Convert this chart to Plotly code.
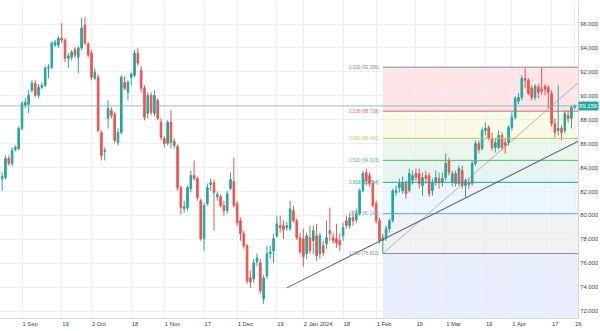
import pandas as pd
import plotly.graph_objects as go

# ---- daily sessions (ICE holidays removed) ----
holidays = ["2023-12-25", "2024-01-01", "2024-03-29"]
dates = [d for d in pd.bdate_range("2023-08-23", "2024-04-26")
         if d.strftime("%Y-%m-%d") not in holidays]

open_ = [83.92, 83.08, 83.16, 84.76, 84.34, 85.51, 85.60, 87.27, 89.21, 89.29,
         90.46, 91.05, 90.04, 90.71, 90.88, 92.31, 92.39, 94.24, 94.24, 94.82,
         94.66, 93.15, 93.23, 93.90, 93.23, 93.99, 95.92, 94.32, 93.57, 91.47,
         91.55, 86.94, 85.35, 88.11, 88.79, 88.45, 86.10, 86.94, 91.13, 90.29,
         91.55, 91.72, 93.57, 92.14, 90.63, 88.53, 90.04, 88.53, 89.62, 87.78,
         86.44, 86.02, 87.78, 85.85, 85.76, 82.33, 80.56, 80.65, 82.24, 83.33,
         83.08, 81.23, 78.05, 80.98, 82.58, 82.74, 81.57, 81.57, 80.82, 80.40,
         82.24, 82.83, 80.98, 79.56, 78.47, 77.46, 74.77, 74.69, 76.12, 76.03,
         73.01, 74.94, 76.79, 77.04, 78.30, 79.14, 79.14, 78.97, 78.89, 80.40,
         79.56, 78.13, 78.05, 76.79, 78.13, 77.88, 78.30, 76.79, 77.46, 77.63,
         78.72, 78.13, 78.05, 77.88, 78.30, 79.56, 79.14, 79.81, 79.64, 80.14,
         82.07, 83.58, 83.33, 82.66, 80.98, 79.56, 77.88, 78.13, 78.89, 79.56,
         81.91, 82.33, 82.07, 82.66, 82.07, 82.91, 83.50, 83.50, 82.49, 83.33,
         83.33, 82.07, 82.74, 83.08, 82.74, 83.16, 84.59, 82.74, 83.50, 82.66,
         83.75, 82.49, 82.74, 82.66, 84.34, 86.02, 85.60, 87.11, 87.36, 86.44,
         85.68, 85.68, 86.69, 86.10, 86.10, 87.36, 88.20, 89.54, 89.87, 91.47,
         91.30, 90.63, 89.87, 90.71, 90.55, 90.80, 90.71, 90.21, 87.69, 87.11,
         87.27, 87.11, 88.37, 88.11, 89.04]
high = [84.17, 83.58, 85.01, 85.01, 85.68, 85.85, 87.44, 89.54, 89.79, 90.46,
        91.30, 91.30, 90.97, 91.13, 92.48, 92.64, 94.57, 94.66, 94.99, 96.08,
        94.82, 93.57, 93.82, 94.07, 94.15, 96.50, 96.59, 94.49, 93.82, 92.31,
        91.80, 87.11, 85.68, 89.62, 89.04, 88.62, 87.27, 91.72, 91.64, 91.30,
        91.97, 93.82, 93.99, 92.48, 90.88, 90.29, 90.29, 90.46, 89.79, 88.11,
        86.60, 87.95, 88.79, 86.44, 85.93, 82.49, 81.23, 82.49, 83.75, 84.59,
        83.25, 81.40, 81.07, 82.66, 83.08, 83.00, 81.99, 81.74, 81.23, 82.07,
        83.58, 84.84, 81.23, 79.81, 78.72, 77.63, 75.36, 76.37, 76.79, 76.37,
        75.02, 77.46, 77.46, 78.47, 79.98, 79.98, 79.56, 79.47, 81.23, 80.82,
        79.72, 78.55, 78.89, 78.55, 79.14, 79.14, 79.30, 78.55, 77.88, 79.56,
        80.65, 78.55, 79.30, 78.47, 79.39, 79.98, 80.14, 80.40, 80.56, 82.24,
        83.75, 83.92, 83.58, 82.91, 81.23, 79.81, 78.47, 79.14, 79.72, 82.24,
        82.49, 83.08, 83.25, 82.91, 83.92, 83.75, 83.92, 83.92, 83.58, 83.75,
        83.58, 83.08, 83.75, 83.58, 83.58, 85.18, 84.84, 83.75, 83.75, 84.17,
        84.17, 83.08, 83.08, 84.59, 86.27, 86.27, 87.36, 87.78, 87.53, 86.94,
        86.44, 87.11, 86.94, 86.44, 87.53, 88.62, 89.96, 90.21, 91.72, 92.31,
        91.47, 90.88, 90.97, 90.97, 92.396, 90.97, 90.88, 90.46, 88.11, 90.88,
        87.53, 88.79, 88.79, 89.21, 89.29]
low = [83.08, 82.07, 83.00, 84.17, 84.09, 85.35, 85.43, 87.11, 88.95, 88.53,
       90.29, 89.87, 89.79, 90.55, 90.71, 91.47, 92.22, 94.07, 93.99, 94.41,
       92.81, 92.31, 92.98, 93.15, 91.89, 93.82, 94.24, 93.23, 91.30, 91.30,
       86.94, 84.59, 84.59, 87.27, 88.11, 86.02, 85.85, 86.77, 90.46, 89.62,
       90.88, 91.55, 92.48, 90.29, 87.95, 88.11, 88.37, 88.28, 87.95, 86.27,
       85.68, 85.85, 85.60, 85.60, 82.07, 80.06, 80.23, 80.40, 81.91, 82.91,
       81.23, 77.88, 77.04, 80.82, 82.07, 78.72, 81.23, 80.65, 79.98, 80.14,
       82.07, 80.65, 79.14, 77.88, 77.21, 74.27, 73.94, 74.36, 75.78, 73.43,
       72.59, 74.69, 76.37, 76.03, 78.13, 78.55, 78.05, 78.72, 78.72, 79.39,
       77.96, 76.79, 75.70, 76.37, 76.79, 76.79, 76.20, 76.37, 76.62, 77.21,
       77.88, 77.63, 77.29, 77.04, 77.88, 78.89, 78.89, 79.14, 79.39, 79.98,
       81.91, 82.49, 82.41, 80.65, 79.30, 77.63, 76.81, 77.88, 78.55, 79.39,
       81.65, 81.91, 81.82, 81.40, 81.91, 82.58, 82.91, 82.24, 81.65, 82.66,
       81.57, 81.65, 82.49, 82.24, 82.41, 82.91, 83.33, 82.41, 82.41, 82.49,
       82.24, 81.49, 82.24, 82.49, 84.17, 85.18, 85.43, 86.69, 86.27, 85.43,
       85.26, 85.51, 85.43, 85.18, 85.85, 87.11, 88.03, 89.29, 89.62, 90.63,
       90.04, 89.62, 89.62, 89.79, 90.04, 90.04, 88.95, 87.44, 86.52, 86.69,
       86.27, 86.85, 87.78, 87.27, 88.87]
close = [83.33, 83.25, 84.76, 84.34, 85.43, 85.68, 87.27, 89.37, 89.46, 90.04,
         91.05, 90.04, 90.71, 90.88, 92.31, 92.39, 94.41, 94.49, 94.82, 94.66,
         93.15, 93.32, 93.65, 93.40, 93.99, 95.66, 94.41, 93.40, 91.55, 91.97,
         87.11, 85.01, 85.43, 88.95, 88.37, 86.27, 86.94, 91.55, 90.63, 91.13,
         91.80, 93.57, 92.73, 90.63, 88.20, 90.04, 88.62, 90.04, 88.11, 86.52,
         86.02, 87.78, 86.10, 86.18, 82.33, 80.65, 80.73, 82.33, 83.33, 83.08,
         81.49, 78.05, 80.82, 82.33, 82.74, 81.91, 81.74, 80.82, 80.40, 81.82,
         83.00, 80.82, 79.39, 78.47, 77.46, 74.52, 74.44, 76.03, 76.45, 73.68,
         74.77, 76.79, 76.96, 78.05, 79.30, 78.97, 78.80, 79.14, 80.56, 79.56,
         78.13, 76.96, 76.54, 78.30, 77.04, 78.72, 76.62, 78.30, 76.87, 78.13,
         78.47, 77.88, 77.71, 77.54, 78.97, 79.14, 79.81, 79.56, 80.14, 82.07,
         83.50, 82.91, 82.66, 80.82, 79.56, 77.88, 78.13, 78.89, 79.56, 82.07,
         82.07, 82.66, 82.74, 81.82, 83.50, 83.33, 83.16, 82.66, 83.16, 83.08,
         81.82, 82.74, 83.16, 82.74, 83.08, 84.34, 83.58, 83.50, 82.66, 83.92,
         82.49, 82.91, 82.58, 84.34, 86.02, 85.51, 87.11, 87.27, 86.44, 85.68,
         86.10, 86.69, 85.68, 85.85, 87.36, 88.20, 89.79, 89.87, 91.47, 91.30,
         90.21, 89.87, 90.80, 90.29, 90.38, 90.55, 90.29, 87.69, 86.94, 87.27,
         86.94, 88.53, 88.11, 89.04, 89.156]

# ---- axis ticks ----
tick_dates = ["2023-09-01", "2023-09-19", "2023-10-02", "2023-10-18", "2023-11-01",
              "2023-11-17", "2023-12-01", "2023-12-19", "2024-01-02", "2024-01-18",
              "2024-02-01", "2024-02-19", "2024-03-01", "2024-03-19", "2024-04-01",
              "2024-04-17", "2024-04-26"]
tick_labels = ["1 Sep", "19", "2 Oct", "18", "1 Nov", "17", "1 Dec", "19", "2 Jan 2024",
               "18", "1 Feb", "19", "1 Mar", "19", "1 Apr", "17", "26"]
price_ticks = [72, 74, 76, 78, 80, 82, 84, 86, 88, 90, 92, 94, 96]

# ---- drawings ----
trend_anchor_dates = ["2023-12-22", "2024-04-26"]
trend_anchor_prices = [73.94, 86.06]
fib_low_date = "2024-02-05"
fib_low = 76.81
fib_high = 92.396
fib_high_bars_ahead = 6.4          # second anchor sits beyond the last session
fib_ratios = [0.0, 0.236, 0.382, 0.5, 0.618, 0.786, 1.0]
fib_line_colors = ["#8c8791", "#d46a74", "#b9cc5e", "#5cb860", "#2aa58f", "#5aaec2", "#8e8a9c"]
fib_fill_colors = ["rgba(242,54,69,0.13)", "rgba(205,220,57,0.12)", "rgba(76,175,80,0.11)",
                   "rgba(8,153,129,0.10)", "rgba(33,150,243,0.09)", "rgba(120,123,134,0.10)",
                   "rgba(41,98,255,0.10)"]
last_price = close[-1]

# ---- positions ----
idx = {d.strftime("%Y-%m-%d"): i for i, d in enumerate(dates)}
xs = list(range(len(dates)))
x_left, x_right = 0.35, 174.98
y_bottom, y_top = 71.42, 97.93

green, red = "#26a69a", "#ef5350"

fig = go.Figure()
fig.add_trace(go.Candlestick(
    x=xs, open=open_, high=high, low=low, close=close,
    increasing=dict(line=dict(color=green, width=1), fillcolor=green),
    decreasing=dict(line=dict(color=red, width=1), fillcolor=red),
    whiskerwidth=0, showlegend=False, hoverinfo="skip",
))

shapes = []
annotations = []

# Fibonacci retracement
fx0 = idx[fib_low_date]
fx1 = len(dates) - 1 + fib_high_bars_ahead
span = fib_high - fib_low
levels = [fib_high - r * span for r in fib_ratios]
bands = levels + [fib_high - 1.618 * span]
for k in range(len(bands) - 1):
    shapes.append(dict(type="rect", xref="x", yref="y", x0=fx0, x1=fx1,
                       y0=bands[k + 1], y1=bands[k], fillcolor=fib_fill_colors[k],
                       line=dict(width=0), layer="below"))
for r, p, c in zip(fib_ratios, levels, fib_line_colors):
    shapes.append(dict(type="line", xref="x", yref="y", x0=fx0, x1=fx1, y0=p, y1=p,
                       line=dict(color=c, width=1)))
    annotations.append(dict(x=fx0 - 0.6, y=p, xref="x", yref="y", text=f"{r:.3f} ({p:.3f})",
                            showarrow=False, xanchor="right", yanchor="middle",
                            font=dict(size=4.6, color=c, family="Liberation Sans")))
# fib diagonal
shapes.append(dict(type="line", xref="x", yref="y", x0=fx0, y0=fib_low, x1=fx1, y1=fib_high,
                   line=dict(color="rgba(140,140,150,0.8)", width=0.8)))

# support trend line, extended to the right edge
t0 = idx[trend_anchor_dates[0]]
t1 = idx[trend_anchor_dates[1]]
slope = (trend_anchor_prices[1] - trend_anchor_prices[0]) / (t1 - t0)
shapes.append(dict(type="line", xref="x", yref="y", x0=t0, y0=trend_anchor_prices[0],
                   x1=x_right + 2, y1=trend_anchor_prices[0] + slope * (x_right + 2 - t0),
                   line=dict(color="#5d6b7a", width=1.1)))

# last price line
shapes.append(dict(type="line", xref="paper", yref="y", x0=0, x1=1, y0=last_price, y1=last_price,
                   line=dict(color="rgba(120,165,190,0.75)", width=1)))
annotations.append(dict(x=1, y=last_price, xref="paper", yref="y", text=f"{last_price:.3f}",
                        showarrow=False, xanchor="left", yanchor="middle", bgcolor=green,
                        font=dict(size=6, color="white", family="Liberation Sans"),
                        width=19, height=8, borderpad=0))

fig.update_layout(
    width=600, height=331,
    margin=dict(l=0, r=22, t=1, b=13),
    paper_bgcolor="white", plot_bgcolor="white",
    shapes=shapes, annotations=annotations,
    xaxis=dict(range=[x_left, x_right], rangeslider=dict(visible=False),
               tickvals=[idx[d] for d in tick_dates], ticktext=tick_labels,
               ticklabelposition="outside right",
               tickfont=dict(size=5.8, color="#3a3e4a", family="Liberation Sans"),
               showgrid=True, gridcolor="#eceef2", gridwidth=1, zeroline=False,
               showline=True, linecolor="#d6d8de", ticks="", ticklen=0),
    yaxis=dict(range=[y_bottom, y_top], side="right", tickvals=price_ticks,
               tickformat=".3f", tickfont=dict(size=5.8, color="#3a3e4a", family="Liberation Sans"),
               showgrid=True, gridcolor="#eceef2", gridwidth=1, zeroline=False,
               showline=True, linecolor="#d6d8de", ticks="", ticklen=0, mirror=False),
)

fig.write_html("out.html")
